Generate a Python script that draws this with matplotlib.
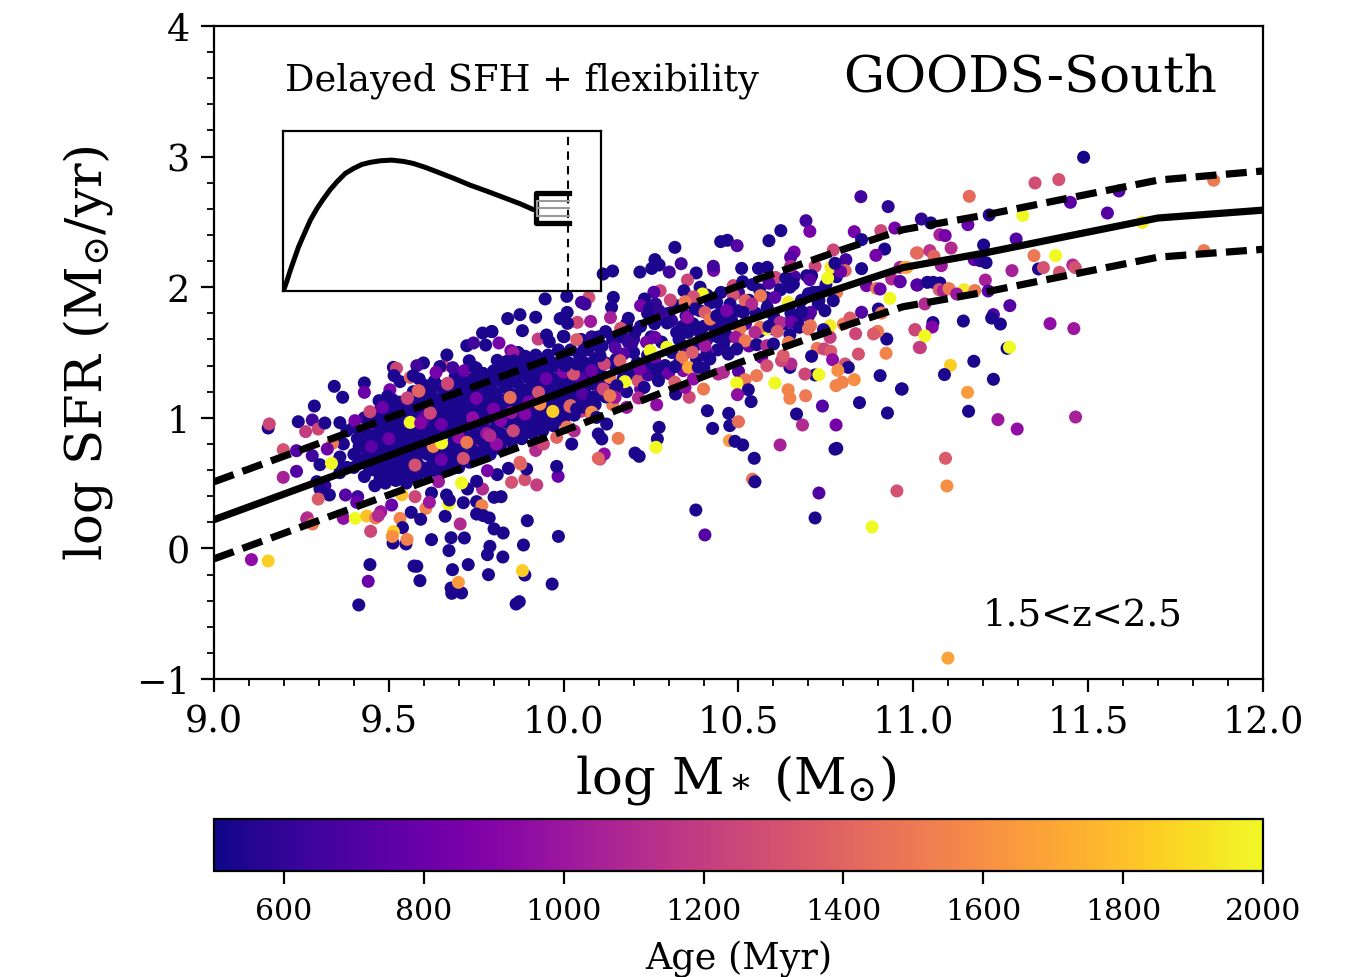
import numpy as np
import matplotlib
matplotlib.use("Agg")
import matplotlib.pyplot as plt

plt.rcParams['font.family'] = 'DejaVu Serif'
plt.rcParams['mathtext.fontset'] = 'dejavuserif'

# curvas de la secuencia principal
line_mass = [9.0, 9.5, 10.0, 10.5, 10.8, 10.97, 11.2, 11.44, 11.7, 12.0]
line_sfr = [0.22, 0.71, 1.2, 1.72, 2.0, 2.15, 2.26, 2.39, 2.53, 2.59]
line_up = [0.51, 1.0, 1.49, 2.01, 2.29, 2.44, 2.55, 2.68, 2.82, 2.89]
line_low = [-0.08, 0.41, 0.9, 1.42, 1.7, 1.85, 1.96, 2.09, 2.23, 2.29]

# curva del recuadro (SFH)
sfh_t = [0.002, 0.013, 0.023, 0.034, 0.049, 0.065, 0.086, 0.107, 0.128, 0.149, 0.170, 0.196, 0.222, 0.248, 0.274,
         0.306, 0.342, 0.379, 0.410, 0.447, 0.484, 0.536, 0.588, 0.641, 0.693, 0.746, 0.787]
sfh_y = [0.004, 0.067, 0.129, 0.192, 0.276, 0.349, 0.443, 0.516, 0.578, 0.635, 0.683, 0.735, 0.766, 0.791, 0.804,
         0.814, 0.818, 0.810, 0.797, 0.773, 0.745, 0.705, 0.662, 0.624, 0.585, 0.545, 0.509]

# (log M, log SFR, edad)
blob_under = [
    (9.778,1.129,1500),(9.72,1.02,1100),(9.66,1.08,800),(9.60,0.88,1000),(9.55,0.86,850),(9.83,1.12,1000),
    (9.88,1.21,850),(9.80,0.95,1250),(9.74,0.80,1000),(9.69,0.72,1100),(9.63,0.62,1400),(9.53,0.70,1250),
    (9.47,0.80,850),(9.44,0.92,1000),(9.90,0.95,1300),(9.95,1.00,1000),(10.02,1.18,1500),(10.05,1.05,1200),
    (9.98,0.85,1400),(9.92,0.75,1100),(10.10,1.20,1000),(10.08,1.02,1300),(9.85,0.78,1500),(9.58,0.96,1400),
    (9.50,0.98,700),(9.42,0.72,800),(9.76,1.18,1450),(9.70,1.15,700),(10.14,1.10,1500),(10.03,0.90,1100),
]
blob_navy = [
    (9.36,0.70,530),(9.37,0.80,530),(9.38,0.62,530),(9.38,0.90,530),(9.35,0.65,530),(9.36,0.58,530),
    (9.40,0.62,530),(9.40,0.72,530),(9.41,0.84,530),(9.40,0.93,530),
    (9.43,0.55,530),(9.43,0.68,530),(9.44,0.80,530),(9.43,0.90,530),(9.43,1.00,600),
    (9.46,0.48,530),(9.46,0.60,530),(9.47,0.72,530),(9.46,0.84,530),(9.46,0.96,530),(9.47,1.04,530),
    (9.49,0.50,530),(9.49,0.62,530),(9.50,0.74,530),(9.49,0.86,530),(9.49,0.98,530),(9.50,1.08,530),
    (9.52,0.52,530),(9.52,0.62,530),(9.53,0.76,530),(9.52,0.88,530),(9.52,1.00,530),(9.53,1.12,530),
    (9.55,0.50,530),(9.55,0.64,530),(9.56,0.78,530),(9.55,0.90,530),(9.55,1.02,530),(9.56,1.14,530),
    (9.58,0.54,530),(9.58,0.66,530),(9.59,0.80,530),(9.58,0.92,530),(9.58,1.04,530),(9.59,1.18,530),
    (9.61,0.58,530),(9.61,0.72,530),(9.62,0.84,530),(9.61,0.94,530),(9.61,1.06,530),(9.62,1.20,530),
    (9.64,0.58,530),(9.64,0.72,530),(9.65,0.86,530),(9.64,0.98,530),(9.64,1.10,530),(9.65,1.24,530),
    (9.67,0.60,530),(9.67,0.74,530),(9.68,0.88,530),(9.67,1.00,530),(9.67,1.12,530),(9.68,1.26,530),
    (9.70,0.62,530),(9.70,0.76,530),(9.71,0.90,530),(9.70,1.02,530),(9.70,1.16,530),(9.71,1.28,530),
    (9.73,0.66,530),(9.73,0.80,530),(9.74,0.94,530),(9.73,1.06,530),(9.73,1.18,530),(9.74,1.30,530),
    (9.76,0.70,530),(9.76,0.84,530),(9.77,0.96,530),(9.76,1.08,530),(9.76,1.22,530),(9.77,1.34,530),
    (9.79,0.72,530),(9.79,0.86,530),(9.80,1.00,530),(9.79,1.12,530),(9.79,1.24,530),(9.80,1.36,530),
    (9.82,0.76,530),(9.82,0.88,530),(9.83,1.02,530),(9.82,1.14,530),(9.82,1.28,530),(9.83,1.38,530),
    (9.85,0.82,530),(9.85,0.94,530),(9.86,1.06,530),(9.85,1.18,530),(9.85,1.30,530),(9.86,1.40,530),
    (9.88,0.84,530),(9.88,0.96,530),(9.89,1.10,530),(9.88,1.22,530),(9.88,1.34,530),(9.89,1.44,530),
    (9.91,0.88,530),(9.91,1.00,530),(9.92,1.12,530),(9.91,1.26,530),(9.91,1.38,530),(9.92,1.48,530),
    (9.94,0.90,530),(9.94,1.02,530),(9.95,1.16,530),(9.94,1.28,530),(9.94,1.40,530),
    (9.97,0.94,530),(9.97,1.06,530),(9.98,1.18,530),(9.97,1.30,530),(9.97,1.42,530),
    (10.00,0.98,530),(10.00,1.10,530),(10.01,1.22,530),(10.00,1.32,530),(10.00,1.46,530),
    (10.03,1.02,530),(10.03,1.14,530),(10.04,1.26,530),(10.03,1.36,530),
    (10.06,1.08,600),(10.06,1.20,530),(10.07,1.30,530),(10.06,1.42,530),
    (10.09,1.10,530),(10.10,1.26,700),(10.09,1.36,530),
    (10.12,1.16,530),(10.13,1.30,530),(10.12,1.42,530),
    # segunda capa para que la mancha quede solida
    (9.415,0.66,530),(9.415,0.78,530),(9.42,0.88,530),(9.445,0.60,530),(9.445,0.73,530),(9.45,0.86,530),(9.445,0.98,530),
    (9.475,0.54,530),(9.475,0.66,530),(9.48,0.79,530),(9.475,0.92,530),(9.475,1.06,530),
    (9.505,0.56,530),(9.505,0.68,530),(9.51,0.81,530),(9.505,0.93,530),(9.505,1.04,530),(9.51,1.14,530),
    (9.535,0.57,530),(9.535,0.70,530),(9.54,0.83,530),(9.535,0.95,530),(9.535,1.07,530),
    (9.565,0.58,530),(9.565,0.72,530),(9.57,0.85,530),(9.565,0.97,530),(9.565,1.09,530),(9.57,1.20,530),
    (9.595,0.62,530),(9.595,0.74,530),(9.60,0.86,530),(9.595,0.99,530),(9.595,1.12,530),
    (9.625,0.65,530),(9.625,0.78,530),(9.63,0.90,530),(9.625,1.02,530),(9.625,1.15,530),(9.63,1.28,530),
    (9.655,0.66,530),(9.655,0.79,530),(9.66,0.92,530),(9.655,1.04,530),(9.655,1.17,530),
    (9.685,0.68,530),(9.685,0.81,530),(9.69,0.94,530),(9.685,1.07,530),(9.685,1.20,530),(9.69,1.32,530),
    (9.715,0.71,530),(9.715,0.85,530),(9.72,0.97,530),(9.715,1.10,530),(9.715,1.23,530),
    (9.745,0.74,530),(9.745,0.88,530),(9.75,1.01,530),(9.745,1.13,530),(9.745,1.26,530),(9.75,1.38,530),
    (9.775,0.78,530),(9.775,0.90,530),(9.78,1.04,530),(9.775,1.16,530),(9.775,1.28,530),
    (9.805,0.80,530),(9.805,0.92,530),(9.81,1.07,530),(9.805,1.19,530),(9.805,1.32,530),(9.81,1.44,530),
    (9.835,0.84,530),(9.835,0.97,530),(9.84,1.10,530),(9.835,1.23,530),(9.835,1.35,530),
    (9.865,0.88,530),(9.865,1.00,530),(9.87,1.14,530),(9.865,1.27,530),(9.865,1.38,530),(9.87,1.50,530),
    (9.895,0.92,530),(9.895,1.05,530),(9.90,1.18,530),(9.895,1.31,530),(9.895,1.41,530),
    (9.925,0.94,530),(9.925,1.07,530),(9.93,1.21,530),(9.925,1.33,530),(9.925,1.46,530),
    (9.955,0.97,530),(9.955,1.10,530),(9.96,1.24,530),(9.955,1.36,530),(9.955,1.48,530),
    (9.985,1.02,530),(9.985,1.14,530),(9.99,1.27,530),(9.985,1.39,530),(9.985,1.52,530),
    (10.015,1.05,530),(10.015,1.18,530),(10.02,1.30,530),(10.015,1.42,530),
    (10.045,1.10,530),(10.045,1.22,530),(10.05,1.34,530),(10.045,1.48,530),
    (10.075,1.14,530),(10.08,1.26,530),(10.075,1.40,530),
    (10.105,1.18,530),(10.11,1.32,530),(10.105,1.45,530),
]
band_navy = [
    (10.02,1.52,530),(10.02,1.34,530),(10.05,1.60,530),(10.08,1.62,600),(10.10,1.62,530),(10.11,1.55,530),
    (10.14,1.60,530),(10.15,1.45,530),(10.15,1.38,530),(10.17,1.30,530),(10.18,1.60,650),(10.18,1.20,530),
    (10.20,1.50,530),(10.21,1.42,530),(10.23,1.35,530),(10.24,1.48,530),(10.25,1.62,530),(10.26,1.45,850),
    (10.26,1.72,530),(10.28,1.58,530),(10.29,1.40,530),(10.30,1.80,530),(10.31,1.50,530),(10.33,1.60,530),
    (10.34,1.70,530),(10.35,1.78,530),(10.36,1.52,530),(10.37,1.72,530),(10.38,1.45,530),(10.39,1.82,530),
    (10.40,1.70,530),(10.41,1.60,600),(10.42,1.88,530),(10.43,1.70,530),(10.44,1.52,530),(10.45,1.80,530),
    (10.46,1.72,530),(10.47,1.62,530),(10.48,1.75,530),(10.50,1.82,530),(10.52,1.72,650),(10.53,1.90,530),
    (10.55,1.80,530),(10.56,1.98,530),(10.58,1.92,530),(10.60,1.78,530),(10.62,1.98,530),(10.65,1.80,530),
    (10.68,1.90,530),(10.70,1.95,530),(10.73,1.90,530),(10.75,2.02,530),(10.78,2.08,530),
    (10.13,1.20,530),(10.16,1.24,650),(10.19,1.34,530),(10.22,1.22,800),(10.24,1.38,530),(10.27,1.30,530),
    (10.30,1.34,800),(10.33,1.42,530),(10.35,1.50,650),(10.38,1.56,530),(10.41,1.50,900),(10.44,1.62,530),
    (10.47,1.50,700),(10.50,1.62,530),(10.53,1.55,800),(10.56,1.66,530),(10.60,1.68,700),(10.63,1.72,530),
    (10.67,1.74,530),(10.70,1.78,650),(10.22,1.70,530),(10.28,1.78,650),(10.32,1.86,530),(10.37,1.92,700),
    (10.41,1.94,530),(10.45,1.96,530),(10.50,1.96,650),(10.54,2.02,530),(10.60,2.05,530),(10.66,2.08,650),
    (10.16,1.62,530),(10.20,1.60,600),(10.12,1.66,530),(10.07,1.52,530),(10.24,1.80,530),(10.18,1.72,530),
]
low_mass = [
    (9.155,0.922,530),(9.158,0.953,1250),(9.198,0.756,1300),(9.198,0.544,1050),(9.236,0.590,700),(9.236,0.748,700),
    (9.241,0.970,530),(9.262,0.894,1200),(9.281,0.983,650),(9.287,1.090,530),(9.298,0.914,1250),(9.317,0.960,530),
    (9.344,1.241,530),(9.368,1.157,530),(9.360,0.963,530),(9.281,0.710,650),(9.303,0.641,530),(9.336,0.651,2000),
    (9.339,0.805,1500),(9.324,0.761,800),(9.294,0.511,530),(9.317,0.480,600),(9.303,0.455,530),(9.330,0.409,530),
    (9.298,0.378,1350),(9.376,0.409,720),(9.411,0.396,650),(9.408,0.353,800),(9.267,0.235,1200),(9.265,0.225,1100),
    (9.282,0.187,1500),(9.370,0.230,950),(9.404,0.230,2000),(9.437,0.248,1800),(9.462,0.233,1500),(9.477,0.281,1000),
    (9.470,0.251,1100),(9.448,0.131,1250),(9.532,0.230,1550),(9.539,0.159,530),(9.512,0.041,530),(9.513,0.128,1850),
    (9.510,0.092,1600),(9.549,0.034,530),(9.552,0.069,1550),(9.107,-0.086,950),(9.155,-0.096,1850),(9.446,-0.124,530),
    (9.441,-0.252,800),(9.414,-0.433,530),(9.572,-0.135,530),(9.580,-0.137,530),(9.589,-0.247,530),(9.622,0.067,530),
    (9.678,0.082,530),(9.716,0.080,530),(9.672,-0.017,530),(9.682,-0.163,530),(9.727,-0.124,530),(9.678,-0.303,530),
    (9.680,-0.344,530),(9.708,-0.341,530),(9.699,-0.260,1650),(9.785,-0.201,530),(9.826,-0.066,530),(9.782,-0.048,530),
    (9.789,0.016,530),(9.885,0.026,530),(9.801,0.149,530),(9.827,0.118,530),(9.896,0.212,530),(9.985,0.092,530),
    (9.889,-0.204,530),(9.882,-0.170,1850),(9.967,-0.273,530),(9.864,-0.426,530),(9.873,-0.408,530),(9.704,0.187,1100),
    (9.661,0.246,530),(9.606,0.307,1550),(9.564,0.276,530),(9.591,0.223,530),(9.508,0.332,800),(9.575,0.396,1250),
    (9.537,0.411,1800),(9.622,0.424,530),(9.616,0.353,1000),(9.671,0.340,2000),(9.665,0.409,530),(9.673,0.371,530),
    (9.713,0.350,530),(9.751,0.358,530),(9.768,0.455,1100),(9.766,0.327,1550),(9.751,0.263,530),(9.770,0.251,530),
    (9.787,0.233,530),(9.801,0.391,530),(9.821,0.396,530),(9.725,0.455,530),(9.708,0.501,2000),(9.642,0.511,1000),
    (9.751,0.514,530),(9.923,0.486,1200),(9.889,0.526,1300),(9.851,0.506,1300),(9.984,0.552,800),(9.980,0.628,530),
    (9.894,0.608,530),(9.877,0.646,1450),(9.810,0.565,530),(9.782,0.595,850),(9.842,0.613,530),
    (9.599,1.420,530),(9.513,1.386,530),(9.522,1.379,1250),(9.580,1.399,650),(9.656,1.399,1300),(9.646,1.392,530),
    (9.635,1.348,850),(9.683,1.384,650),(9.666,1.481,530),(9.730,1.437,530),(9.716,1.361,800),(9.746,1.386,530),
    (9.723,1.552,530),(9.742,1.573,650),(9.777,1.557,530),(9.768,1.649,530),(9.794,1.660,530),(9.815,1.573,850),
    (9.882,1.667,530),(9.927,1.603,1200),(9.951,1.634,530),(9.959,1.583,530),(9.999,1.624,530),(9.849,1.514,850),
    (9.856,1.496,1000),(9.890,1.471,530),(9.837,1.432,530),(9.858,1.437,530),(9.515,1.323,530),(9.532,1.277,530),
    (9.561,1.310,1400),(9.570,1.323,530),(9.587,1.297,530),(9.606,1.246,530),(9.668,1.259,1250),(9.430,1.267,530),
    (9.430,1.195,800),(9.503,1.215,850),(9.586,1.205,1450),(9.553,1.152,1200),(9.472,1.131,530),(9.496,1.164,530),
    (9.482,1.080,800),(9.446,1.047,1250),(9.534,1.093,530),(9.403,0.978,850),(9.618,1.037,1250),
    (9.875,1.79,530),(9.84,1.76,530),(9.92,1.77,530),(9.99,1.76,530),(9.947,1.91,530),(9.795,1.66,530),
]
blob_top = [
    (9.74,1.00,950),(9.78,0.88,1000),(9.82,0.98,900),(9.90,1.12,850),(9.95,1.30,800),(9.65,0.95,800),(9.60,1.00,750),
    (9.70,0.85,950),(9.85,1.04,1000),(10.00,1.35,900),(9.75,1.15,850),(9.50,0.84,800),(9.45,0.78,750),(9.65,0.68,800),
    (10.05,1.30,700),
    (9.969,1.049,1850),(9.627,0.781,1550),(9.651,0.807,2000),(9.561,0.965,2000),(9.591,0.960,900),(9.618,1.036,1250),
    (9.668,1.264,1250),(9.723,0.812,1500),(9.713,0.689,1300),(9.889,1.029,900),(10.020,1.093,1450),(10.009,0.927,1500),
    (9.932,1.105,1600),(9.928,1.195,1300),(10.028,1.335,1300),(9.808,0.799,950),(9.789,0.863,1100),(9.856,0.901,1250),
    (9.875,0.659,1400),(9.942,0.799,1250),(10.104,0.684,1300),(9.575,0.638,1300),(9.799,1.067,850),(9.553,1.149,1250),
    (9.584,1.207,1400),(9.847,1.156,1450),
]
mid_mass = [
    (10.850,2.693,650),(10.928,2.617,580),(10.693,2.509,650),(10.704,2.428,850),(10.621,2.433,530),(10.587,2.356,530),
    (10.449,2.349,530),(10.468,2.359,530),(10.496,2.318,720),(10.318,2.305,530),(10.831,2.425,850),(10.907,2.433,1250),
    (10.947,2.453,850),(10.852,2.364,530),(10.771,2.285,1250),(10.659,2.269,850),(10.649,2.229,720),(10.918,2.292,530),
    (10.893,2.244,850),(10.807,2.211,650),(11.009,2.262,1400),(10.261,2.211,530),(10.273,2.170,530),(10.252,2.144,530),
    (10.336,2.180,650),(10.429,2.129,850),(10.428,2.160,650),(10.302,2.116,650),(10.218,2.116,530),(10.140,2.124,530),
    (10.113,2.101,530),(10.379,2.109,530),(10.509,2.144,530),(10.557,2.144,530),(10.582,2.152,530),(10.649,2.160,1100),
    (10.606,2.075,1250),(10.719,2.160,1250),(10.764,2.152,1950),(10.805,2.127,1400),(10.792,2.119,800),(10.776,2.183,530),
    (10.852,2.142,530),(10.755,2.070,2000),(10.695,2.088,530),(10.709,2.088,530),(10.704,2.058,720),(10.635,2.068,530),
    (10.587,2.030,720),(10.647,2.000,530),(10.657,2.024,530),(10.354,2.055,1250),(10.390,2.000,530),(10.397,1.948,2000),
    (10.344,1.973,530),(10.276,1.973,1250),(10.258,1.961,720),(10.305,1.902,1250),(10.231,1.910,530),(10.220,1.859,850),
    (10.263,1.871,600),(10.245,1.833,530),(10.273,1.820,600),(10.309,1.744,600),(10.296,1.726,530),(10.354,1.769,950),
    (10.185,1.762,530),(10.163,1.685,1300),(10.142,1.922,530),(10.137,1.846,530),(10.134,1.767,1050),(10.077,1.738,1000),
    (10.039,1.731,1250),(10.011,1.723,530),(10.010,1.807,530),(10.072,1.922,1300),(10.051,1.884,650),(10.061,1.871,650),
    (10.009,1.930,530),(10.001,1.621,530),(10.037,1.598,1350),(10.099,1.552,530),(10.056,1.514,530),(10.204,1.654,530),
    (10.237,1.578,850),(10.261,1.616,800),(10.247,1.514,2000),(10.295,1.540,2000),(10.194,1.565,600),(10.147,1.540,700),
    (10.171,1.488,720),(10.090,1.450,530),(10.116,1.412,1250),(10.161,1.437,1350),(10.037,1.412,530),(10.004,1.399,530),
    (10.080,1.361,800),(10.132,1.310,1500),(10.175,1.277,2000),(10.152,1.246,530),(10.213,1.284,1300),(10.242,1.328,650),
    (10.271,1.284,530),(10.230,1.233,530),(10.113,1.220,1250),(10.147,1.157,1000),(10.132,1.169,1500),(10.054,1.182,700),
    (10.085,1.157,530),(10.018,1.088,1400),(10.037,1.067,530),(10.080,1.042,1600),(10.094,1.003,530),(10.123,0.952,530),
    (10.009,0.927,1500),(10.099,0.876,530),(10.109,0.838,530),(10.023,0.799,530),(10.156,0.843,1500),(10.266,1.100,950),
    (10.180,1.080,1000),(10.214,1.152,1100),(10.273,0.927,530),(10.268,0.838,530),(10.264,0.774,2000),(10.116,0.723,950),
    (10.099,0.690,1400),(10.204,0.730,530),(10.216,0.705,530),(10.411,1.054,530),(10.472,1.034,530),(10.426,0.919,530),
    (10.475,0.940,530),(10.500,0.970,1450),(10.474,0.825,1650),(10.490,0.820,530),(10.512,0.792,530),(10.545,0.690,530),
    (10.619,0.792,1050),(10.781,0.766,530),(10.779,0.945,850),(10.683,0.945,1100),(10.666,1.029,530),(10.740,1.090,720),
    (10.846,1.116,530),(10.926,1.037,530),(10.966,1.220,530),(10.905,1.323,530),(10.922,1.494,1550),(10.924,1.603,530),
    (10.898,1.662,1500),(10.886,1.642,1350),(10.843,1.488,1300),(10.835,1.644,1250),(10.800,1.718,1500),(10.819,1.764,1350),
    (10.852,1.808,720),(10.900,1.833,530),(10.909,1.802,1500),(10.933,1.915,2000),(11.005,1.675,1250),(11.017,1.539,1250),
    (10.866,2.012,850),(10.895,1.991,1500),(10.905,1.986,800),(10.962,2.042,800),(11.010,2.017,750),(10.982,2.152,1700),
    (10.962,2.152,1050),(10.938,2.063,1100),(10.781,1.961,1500),(10.771,1.897,530),(10.747,1.820,530),(10.728,1.871,530),
    (10.714,1.961,530),(10.728,1.961,530),(10.706,1.807,720),(10.681,1.813,530),(10.642,1.884,1950),(10.604,1.922,750),
    (10.563,1.935,1500),(10.519,1.897,1400),(10.538,1.871,1100),(10.485,2.012,1250),(10.485,1.940,1300),(10.512,2.042,530),
    (10.476,1.871,530),(10.438,1.884,530),(10.371,1.927,1300),(10.347,1.889,1500),(10.376,1.833,530),(10.404,1.807,1350),
    (10.419,1.756,1500),(10.438,1.782,530),(10.466,1.820,850),(10.514,1.807,530),(10.582,1.846,530),(10.619,1.731,1100),
    (10.652,1.731,800),(10.674,1.693,530),(10.706,1.705,1500),(10.580,1.680,2000),(10.562,1.693,1500),(10.587,1.700,530),
    (10.611,1.662,1350),(10.647,1.636,530),(10.762,1.705,1950),(10.743,1.675,530),(10.762,1.616,1200),(10.700,1.680,1450),
    (10.504,1.680,1500),(10.547,1.654,1100),(10.492,1.616,1000),(10.519,1.590,1500),(10.552,1.560,530),(10.581,1.552,1100),
    (10.600,1.565,530),(10.643,1.578,1500),(10.725,1.532,1500),(10.745,1.527,1250),(10.764,1.509,1350),(10.709,1.471,530),
    (10.769,1.445,950),(10.805,1.412,1300),(10.814,1.386,530),(10.784,1.363,1600),(10.719,1.328,530),(10.730,1.330,2000),
    (10.690,1.335,1250),(10.647,1.386,530),(10.650,1.412,1100),(10.623,1.437,1250),(10.628,1.476,1350),(10.566,1.463,850),
    (10.581,1.399,1300),(10.500,1.356,720),(10.552,1.323,1500),(10.519,1.292,1500),(10.495,1.266,2000),(10.604,1.266,2000),
    (10.528,1.215,530),(10.497,1.177,950),(10.536,1.124,530),(10.642,1.215,1550),(10.647,1.149,1550),(10.692,1.169,1500),
    (10.779,1.246,1550),(10.797,1.272,1550),(10.831,1.292,1600),(10.400,1.220,1500),(10.359,1.157,1250),(10.320,1.182,530),
    (10.347,1.233,950),(10.318,1.272,1350),(10.342,1.361,900),(10.339,1.463,1500),(10.368,1.501,1350),(10.318,1.391,530),
    (10.357,1.386,1700),(10.385,1.386,530),(10.401,1.381,530),(10.418,1.450,530),(10.409,1.476,530),(10.404,1.552,1000),
    (10.457,1.565,530),(10.471,1.488,530),(10.495,1.527,530),(10.457,1.348,1100),(10.442,1.335,1100),(10.371,1.297,950),
    (10.438,1.629,530),(10.390,1.654,530),(10.356,1.654,530),(10.323,1.654,530),(10.266,1.374,530),(10.218,1.374,850),
    (10.185,1.578,600),(10.104,1.476,530),
    (10.719,0.233,530),(10.73,0.424,700),(10.776,0.76,530),(10.54,0.53,1450),(10.547,0.51,530),(10.378,0.294,530),
    (10.404,0.103,720),(10.882,0.164,2000),(10.953,0.44,1300),
]
high_mass = [
    (11.487,2.995,520),(11.348,2.798,1280),(11.416,2.824,1300),(11.160,2.696,1430),(11.859,2.819,1500),(11.588,2.737,700),
    (11.449,2.650,750),(11.555,2.568,720),(11.313,2.550,2000),(11.217,2.553,550),(11.023,2.522,600),(11.050,2.492,530),
    (11.156,2.479,800),(11.076,2.402,1050),(11.091,2.395,850),(11.108,2.300,1100),(11.012,2.262,1430),(11.047,2.280,1150),
    (11.059,2.237,1400),(11.080,2.165,1000),(11.201,2.323,530),(11.294,2.369,700),(11.174,2.211,800),(11.191,2.203,600),
    (11.208,2.188,530),(11.345,2.242,1500),(11.407,2.242,2000),(11.282,2.127,1050),(11.358,2.140,530),(11.372,2.150,1300),
    (11.418,2.114,1300),(11.456,2.170,1100),(11.463,2.150,1300),(11.655,2.497,1950),(11.831,2.280,1500),(10.976,2.152,1700),
    (10.962,2.043,750),(11.012,2.017,720),(11.040,2.037,530),(11.057,2.037,530),(11.076,2.032,530),(11.074,1.981,1350),
    (11.086,1.974,1050),(11.102,1.989,1500),(11.145,1.981,1950),(11.176,1.974,1500),(11.206,2.055,1050),(11.214,1.971,720),
    (11.124,1.948,1000),(11.033,1.872,1100),(11.276,1.859,720),(11.229,1.790,720),(11.224,1.764,530),(11.249,1.718,530),
    (11.143,1.741,530),(11.056,1.729,530),(11.054,1.695,900),(11.005,1.673,1250),(11.033,1.627,2000),(11.020,1.537,1200),
    (11.391,1.721,950),(11.459,1.683,1000),(11.268,1.532,530),(11.275,1.540,2000),(11.173,1.433,530),(11.106,1.402,1850),
    (11.089,1.331,530),(11.229,1.295,530),(11.155,1.195,1650),(10.968,1.221,530),(11.158,1.050,530),(11.242,0.986,1000),
    (11.297,0.914,950),(11.464,1.006,1050),(11.092,0.690,1350),(11.096,0.478,1600),(11.099,-0.84,1680),
]

# tick labels
xticks_main = [9.0, 9.5, 10.0, 10.5, 11.0, 11.5, 12.0]
yticks_main = [-1, 0, 1, 2, 3, 4]
age_ticks = [600, 800, 1000, 1200, 1400, 1600, 1800, 2000]

W, H = 1363, 978
fig = plt.figure(figsize=(W/100, H/100), dpi=100)
ax = fig.add_axes([214/W, 1-680/H, (1263-214)/W, (680-27)/H])

# los puntos se dibujan por grupos para que el azul tape lo de abajo
pts = np.array(blob_under + blob_navy + band_navy + low_mass + blob_top + mid_mass + high_mass)
sc = ax.scatter(pts[:,0], pts[:,1], c=pts[:,2], cmap='plasma', vmin=500, vmax=2000,
                s=88, linewidths=0, zorder=2)

ax.plot(line_mass, line_sfr, color='k', lw=5.2, zorder=3)
ax.plot(line_mass, line_up, color='k', lw=5.2, ls=(0, (2.9, 1.3)), zorder=3)
ax.plot(line_mass, line_low, color='k', lw=5.2, ls=(0, (2.9, 1.3)), zorder=3)

ax.set_xlim(9, 12)
ax.set_ylim(-1, 4)
ax.set_xticks(xticks_main)
ax.set_yticks(yticks_main)
ax.set_xticks(np.arange(9, 12.01, 0.1), minor=True)
ax.set_yticks(np.arange(-1, 4.01, 0.2), minor=True)
ax.set_xticklabels(['%.1f' % v for v in xticks_main])
ax.tick_params(which='major', length=9.5, width=1.6, labelsize=26.3, pad=8)
ax.tick_params(which='minor', length=5, width=1.3)
for s in ax.spines.values():
    s.set_linewidth(1.6)

ax.set_xlabel(r'log M$_*$ (M$_{\odot}$)', fontsize=37, labelpad=9)
ax.xaxis.label.set_x(0.497)
ax.set_ylabel(r'log SFR (M$_{\odot}$/yr)', fontsize=37, labelpad=15)

fig.text(285/W, 1-81/H, 'Delayed SFH + flexibility', fontsize=26.5, va='center', ha='left')
fig.text(843/W, 1-78/H, 'GOODS-South', fontsize=37, va='center', ha='left')
fig.text(983/W, 1-616/H, '1.5<z<2.5', fontsize=26.7, va='center', ha='left')

# recuadro con la SFH
ins = fig.add_axes([283/W, 1-292/H, (601-283)/W, (291-131)/H])
ins.patch.set_alpha(0)
ins.set_xlim(0, 1)
ins.set_ylim(0, 1)
ins.set_xticks([])
ins.set_yticks([])
for s in ins.spines.values():
    s.set_linewidth(1.6)
ins.plot(sfh_t, sfh_y, color='k', lw=3.6, solid_capstyle='round')
ins.plot([0.897, 0.897], [0.0, 0.97], color='k', lw=1.5, ls=(0, (4, 3)))
ins.plot([0.9, 0.795, 0.795, 0.9], [0.614, 0.614, 0.422, 0.422], color='k', lw=3.8, solid_joinstyle='round')
for fy in [0.564, 0.518, 0.466]:
    ins.plot([0.80, 0.9], [fy, fy], color='#999999', lw=1.5)
ins.plot([0.80, 0.80], [0.466, 0.564], color='#999999', lw=1.5)

# barra de color
cax = fig.add_axes([214/W, 1-872/H, (1263-214)/W, (872-820)/H])
cb = fig.colorbar(sc, cax=cax, orientation='horizontal')
cb.set_ticks(age_ticks)
cb.ax.tick_params(length=9, width=1.6, labelsize=21.5, pad=10)
cb.outline.set_linewidth(1.6)
cb.set_label('Age (Myr)', fontsize=26.3, labelpad=10)

fig.savefig('out.png', dpi=100)
